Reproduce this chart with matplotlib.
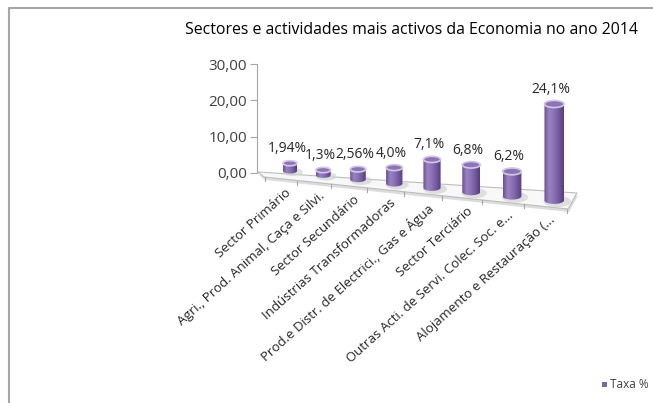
import numpy as np
import matplotlib
matplotlib.use("Agg")
import matplotlib.pyplot as plt
from matplotlib.patches import Ellipse, Polygon, PathPatch, Rectangle
from matplotlib.path import Path
from matplotlib.colors import LinearSegmentedColormap

plt.rcParams['font.family'] = ['Open Sans', 'DejaVu Sans']

# ── Data ──────────────────────────────────────────────────────────────────────
categories = ["Sector Primário",
              "Agri., Prod. Animal, Caça e Silvi.",
              "Sector Secundário",
              "Indústrias Transformadoras",
              "Prod.e Distr. de Electrici., Gas e Água",
              "Sector Terciário",
              "Outras Acti. de Servi. Colec. Soc. e...",
              "Alojamento e Restauração (..."]
taxa = [1.94, 1.3, 2.56, 4.0, 7.1, 6.8, 6.2, 24.1]
value_labels = ["1,94%", "1,3%", "2,56%", "4,0%", "7,1%", "6,8%", "6,2%", "24,1%"]
y_ticks = [0, 10, 20, 30]
title = "Sectores e actividades mais activos da Economia no ano 2014"
series_name = "Taxa %"

# ── Figure / pseudo-3D geometry (pixels on x, values on y) ───────────────────
W, H = 653, 403
Y0, PPU = 173.0, 3.633          # pixel row of 0,00 and pixels per unit on the axis

def yv(p):                        # pixel row -> value units
    return (Y0 - p) / PPU

def proj_x(i):                    # perspective spacing of categories
    return 290 + 32.5 * i + 0.75 * i ** 2

def front_y(x):                   # front edge of the floor
    return 177 + (x - 264) * 32 / 304

fig = plt.figure(figsize=(W / 100, H / 100), dpi=100)
ax = fig.add_axes([0, 0, 1, 1])
ax.set_xlim(0, W)
ax.set_ylim(yv(H), yv(0))

for s in ["top", "right", "bottom"]:
    ax.spines[s].set_visible(False)
ax.spines["left"].set_position(("data", 257))
ax.spines["left"].set_bounds(0, 30)
ax.spines["left"].set_color("#A6A6A6")
ax.set_xticks([])
ax.set_yticks(y_ticks)
ax.set_yticklabels([f"{t:.2f}".replace(".", ",") for t in y_ticks], fontsize=11, color="#404040")
ax.tick_params(axis="y", length=5, color="#A6A6A6", pad=2)

# border of the chart area
ax.plot([9, 9, W], [yv(H), yv(8), yv(8)], color="#A6A6A6", lw=1.5, clip_on=False)

# floor
floor_px = [(258, 172), (577, 193), (568, 209), (264, 177)]
shadow = Polygon([(x + 1, yv(y + 3)) for x, y in floor_px], closed=True,
                 facecolor="#DDDDDD", edgecolor="none", zorder=1)
ax.add_patch(shadow)
floor = Polygon([(x, yv(y)) for x, y in floor_px], closed=True,
                facecolor="#F8F8F8", edgecolor="#BDBDBD", lw=0.8, zorder=2)
ax.add_patch(floor)
for j in range(len(taxa) + 1):
    xt = proj_x(j - 0.5) - 9
    ax.plot([xt, xt], [yv(front_y(xt)), yv(front_y(xt) + 4)], color="#A6A6A6", lw=0.8, zorder=2)

# cylinders
body_cmap = LinearSegmentedColormap.from_list(
    "body", ["#6A5094", "#9A83C2", "#8B71B4", "#7458A0", "#563E7C"])
grad = np.linspace(0, 1, 64)[None, :]

for i, v in enumerate(taxa):
    cx = proj_x(i)
    w = 14 + 0.8 * i
    base_px = 171 + 4.2 * i
    top_px = base_px - v * 4.0
    eh = 0.36 * w / PPU
    base, top = yv(base_px), yv(top_px)

    # soft shadow on floor
    ax.add_patch(Ellipse((cx + 3, base - 0.3), w * 1.4, eh * 1.6,
                         facecolor="#D4D4D4", edgecolor="none", alpha=0.7, zorder=3))

    t = np.linspace(np.pi, 2 * np.pi, 40)
    verts = [(cx - w / 2, top)]
    verts += list(zip(cx + w / 2 * np.cos(t), base + eh / 2 * np.sin(t)))
    verts += [(cx + w / 2, top), (cx - w / 2, top)]
    body = PathPatch(Path(verts), facecolor="none", edgecolor="none",
                     transform=ax.transData, zorder=4)
    ax.add_patch(body)
    im = ax.imshow(grad, extent=(cx - w / 2, cx + w / 2, base - eh, top),
                   cmap=body_cmap, aspect="auto", zorder=4, interpolation="bilinear")
    im.set_clip_path(body)

    ax.add_patch(Ellipse((cx, top), w, eh, facecolor="#8C74B5",
                         edgecolor="#D3C7E6", lw=1.2, zorder=5))

    ax.text(cx - 3, yv(top_px - 7), value_labels[i], ha="center", va="bottom",
            fontsize=10, color="#262626", zorder=6)

    xf = cx - 9
    ax.text(xf + 4, yv(front_y(xf) + 7), categories[i], rotation=42,
            rotation_mode="anchor", ha="right", va="top", fontsize=9.5, color="#262626")

ax.set_xlim(0, W)
ax.set_ylim(yv(H), yv(0))

# title and legend
fig.text(411 / W, 1 - 30 / H, title, ha="center", va="center", fontsize=11.4, color="#000000")
ax.add_patch(Rectangle((602, yv(387)), 5, 5 / PPU, facecolor="#8064A2", edgecolor="none"))
ax.text(610, yv(385), series_name, ha="left", va="center", fontsize=8.5, color="#404040")

plt.savefig("out.png", dpi=100)
